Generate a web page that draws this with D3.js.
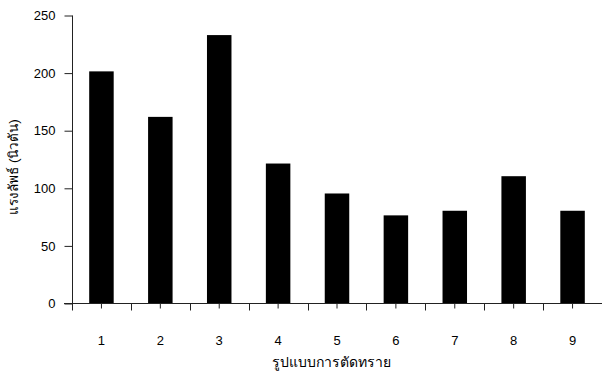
<!DOCTYPE html>
<html><head><meta charset="utf-8">
<script src="https://cdn.jsdelivr.net/npm/d3@7"></script>
<style>body{margin:0;background:#fff}svg{display:block}text{font-family:"Liberation Sans",Arial,sans-serif}</style>
</head><body><svg id="c" width="602" height="374"></svg>
<script>
const categories = ["1","2","3","4","5","6","7","8","9"];
const values = [201.5, 162, 233, 121.5, 95.5, 76.5, 80.5, 110.5, 80.5];
const yTicks = [0, 50, 100, 150, 200, 250];
const xTitle = "รูปแบบการตัดทราย";
const yTitle = "แรงลัพธ์ (นิวตัน)";

const svg = d3.select("#c");
const x = d3.scaleBand().domain(categories).range([72, 602]).paddingInner(0.584).paddingOuter(0.292);
const y = d3.scaleLinear().domain([0, 250]).range([303.5, 15.5]);
const step = x.step();

svg.selectAll("rect.bar").data(values).enter().append("rect")
  .attr("x", (d, i) => x(categories[i]))
  .attr("y", d => y(d))
  .attr("width", x.bandwidth())
  .attr("height", d => y(0) - y(d))
  .attr("fill", "#000");

// y axis
const ya = svg.append("g").attr("transform", "translate(72.5,0)")
  .call(d3.axisLeft(y).tickValues(yTicks).tickSize(8).tickPadding(9).tickFormat(d3.format("d")));
ya.select(".domain").remove();
ya.selectAll("line").attr("stroke", "#222");
ya.selectAll("text").attr("font-size", 13).attr("fill", "#000").attr("font-family", "Liberation Sans, Arial, sans-serif");
svg.append("line").attr("x1", 72.5).attr("x2", 72.5).attr("y1", y(250)).attr("y2", y(0) + 7).attr("stroke", "#222");

// x axis
svg.append("line").attr("x1", 64).attr("x2", 602).attr("y1", y(0)).attr("y2", y(0)).attr("stroke", "#222");
const xa = svg.append("g").attr("transform", `translate(0,${y(0)})`)
  .call(d3.axisBottom(x).tickSize(5).tickPadding(27));
xa.select(".domain").remove();
xa.selectAll("line").attr("stroke", "#222");
xa.selectAll("text").attr("font-size", 13).attr("fill", "#000").attr("font-family", "Liberation Sans, Arial, sans-serif");
// boundary ticks between categories
svg.selectAll("line.bt").data(categories.slice(1)).enter().append("line")
  .attr("x1", d => Math.round(x(d) + x.bandwidth() / 2 - step / 2) + 0.5)
  .attr("x2", d => Math.round(x(d) + x.bandwidth() / 2 - step / 2) + 0.5)
  .attr("y1", y(0)).attr("y2", y(0) + 7).attr("stroke", "#222");

svg.append("text").attr("x", 331).attr("y", 367).attr("text-anchor", "middle")
  .attr("font-size", 14).text(xTitle);
svg.append("text").attr("transform", "translate(18,167) rotate(-90)").attr("text-anchor", "middle")
  .attr("font-size", 13.5).text(yTitle);
</script></body></html>
